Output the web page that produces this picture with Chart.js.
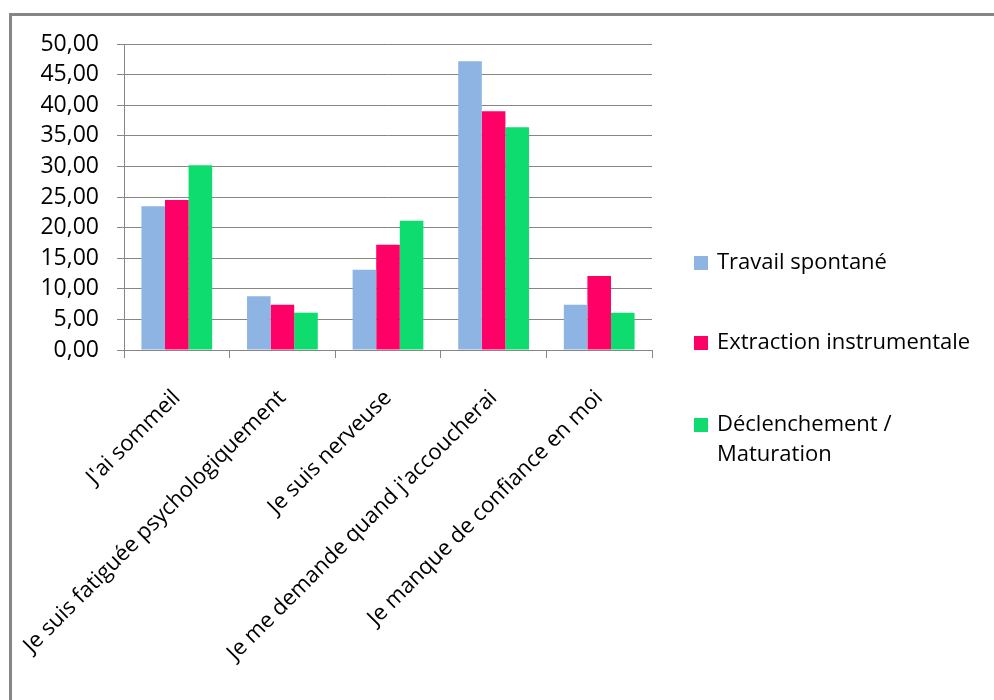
<!DOCTYPE html>
<html>
<head>
<meta charset="utf-8">
<script src="https://cdn.jsdelivr.net/npm/chart.js@4.4.1/dist/chart.umd.min.js"></script>
<style>
    html, body { margin: 0; padding: 0; background: #fff; }
    #wrap { width: 994px; height: 700px; position: relative; }
</style>
</head>
<body>
<div id="wrap"><canvas id="chart"></canvas></div>
<script>
// Data
const categories = [
    "J'ai sommeil",
    'Je suis fatiguée psychologiquement',
    'Je suis nerveuse',
    "Je me demande quand j'accoucherai",
    'Je manque de confiance en moi'
];
const travailSpontane = [23.5, 8.8, 13.1, 47.2, 7.4];
const extractionInstrumentale = [24.5, 7.4, 17.2, 39.0, 12.1];
const declenchementMaturation = [30.2, 6.1, 21.1, 36.4, 6.1];
const seriesNames = ['Travail spontané', 'Extraction instrumentale', ['Déclenchement /', 'Maturation']];
const seriesColors = ['#8EB4E3', '#FF0066', '#0FDC6E'];

const gridColor = '#868686';
const fontFamily = "'Open Sans', sans-serif";

// Frame around the whole chart
const framePlugin = {
    id: 'frame',
    beforeDraw(chart) {
        const ctx = chart.ctx;
        ctx.save();
        ctx.strokeStyle = gridColor;
        ctx.lineWidth = 3;
        ctx.strokeRect(10.5, 14.5, 1000, 720);
        ctx.restore();
    }
};

// Legend drawn on the right, with a two-line entry
const sideLegend = {
    id: 'sideLegend',
    afterDraw(chart) {
        const ctx = chart.ctx;
        const rows = [263, 343, 425];
        ctx.save();
        ctx.font = '22px ' + fontFamily;
        ctx.textBaseline = 'middle';
        ctx.fillStyle = '#000';
        chart.data.datasets.forEach((ds, i) => {
            const y = rows[i];
            ctx.fillStyle = ds.backgroundColor;
            ctx.fillRect(694, y - 7, 14, 14);
            ctx.fillStyle = '#000';
            const lines = Array.isArray(ds.legendText) ? ds.legendText : [ds.legendText];
            lines.forEach((t, j) => ctx.fillText(t, 717, y + j * 30));
        });
        ctx.restore();
    }
};

const datasets = [travailSpontane, extractionInstrumentale, declenchementMaturation].map((vals, i) => ({
    label: Array.isArray(seriesNames[i]) ? seriesNames[i].join(' ') : seriesNames[i],
    legendText: seriesNames[i],
    data: vals,
    backgroundColor: seriesColors[i],
    borderWidth: 0,
    barPercentage: 1,
    categoryPercentage: 0.67
}));

new Chart(document.getElementById('chart'), {
    type: 'bar',
    data: { labels: categories, datasets: datasets },
    options: {
        responsive: true,
        maintainAspectRatio: false,
        animation: false,
        layout: { padding: { top: 44, right: 342, left: 0, bottom: 0 } },
        plugins: {
            legend: { display: false },
            tooltip: { enabled: false }
        },
        scales: {
            x: {
                grid: {
                    offset: true,
                    drawOnChartArea: false,
                    drawTicks: true,
                    tickLength: 8,
                    color: gridColor,
                    lineWidth: 1
                },
                border: { display: true, color: gridColor, width: 1 },
                ticks: {
                    color: '#000',
                    font: { family: fontFamily, size: 22 },
                    minRotation: 45,
                    maxRotation: 45,
                    padding: 27,
                    autoSkip: false
                },
                afterFit(scale) {
                    scale.height = 350;
                    scale.paddingLeft = 0;
                    scale.paddingRight = 0;
                }
            },
            y: {
                min: 0,
                max: 50,
                ticks: {
                    stepSize: 5,
                    color: '#000',
                    font: { family: fontFamily, size: 23 },
                    padding: 18,
                    callback: v => v.toFixed(2).replace('.', ',')
                },
                grid: {
                    color: gridColor,
                    lineWidth: 1,
                    tickLength: 7
                },
                border: { display: true, color: gridColor, width: 1 },
                afterFit(scale) {
                    scale.width = 124;
                    scale.paddingTop = 0;
                    scale.paddingBottom = 0;
                }
            }
        }
    },
    plugins: [framePlugin, sideLegend]
});
</script>
</body>
</html>
